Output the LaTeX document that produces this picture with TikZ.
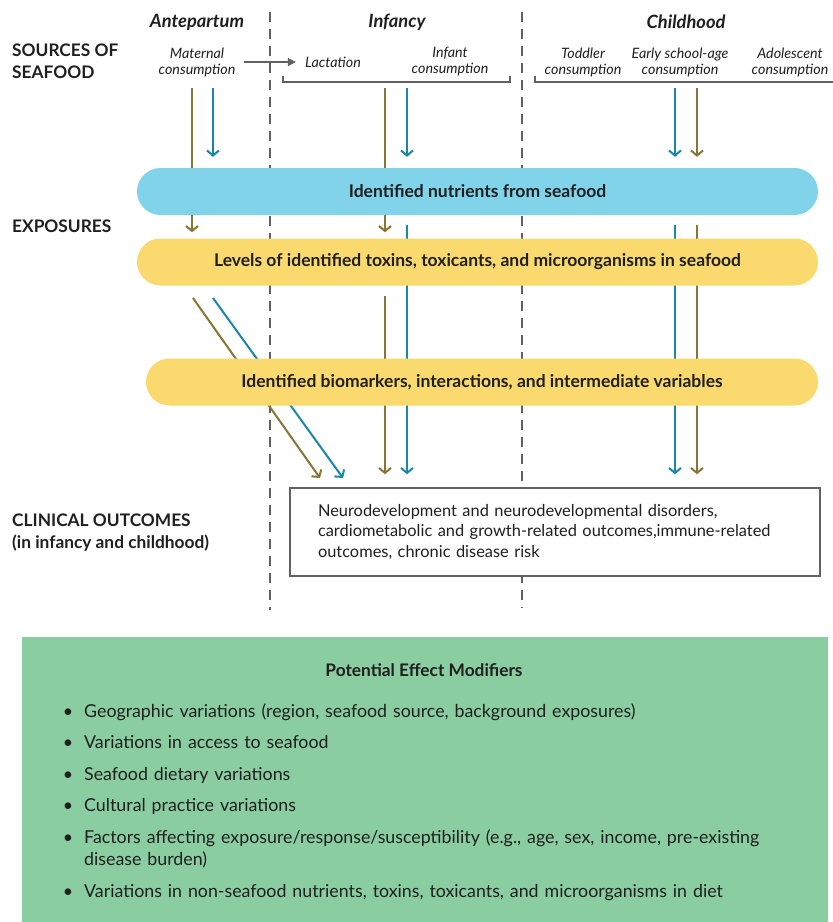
\documentclass[tikz,border=0pt]{standalone}
\usepackage{fontspec}
\setsansfont{Lato}
\usetikzlibrary{arrows.meta, positioning, backgrounds}
\definecolor{cblue}{HTML}{1A87A8}
\definecolor{colive}{HTML}{8A7534}
\definecolor{cgrey}{HTML}{616161}
\definecolor{cnutr}{HTML}{80D3E9}
\definecolor{cyellow}{HTML}{FAD96E}
\definecolor{cgreen}{HTML}{8ACDA1}
\definecolor{cink}{HTML}{1F1F1F}
\tikzset{
  every picture/.style={font=\sffamily, text=cink},
  pill/.style={fill=#1, rounded corners=23.5pt, minimum height=47pt, inner sep=0pt, font=\sffamily\bfseries\fontsize{17.5}{20}\selectfont},
  rowlabel/.style={anchor=west, align=left, inner sep=0pt, font=\sffamily\bfseries\fontsize{17.3}{22}\selectfont},
  period/.style={font=\sffamily\bfseries\itshape\fontsize{18.3}{21}\selectfont},
  source/.style={align=center, inner sep=0pt, font=\sffamily\itshape\fontsize{14.3}{16}\selectfont},
  flow/.style={-{Straight Barb[length=5pt, width=12pt]}, line width=2pt, draw=#1},
  divider/.style={draw=cgrey, line width=2.5pt, dash pattern=on 10pt off 7pt},
  bracket/.style={draw=cgrey, line width=1.5pt},
  item/.style={anchor=base west, text width=730pt, align=left, inner sep=0pt, font=\sffamily\fontsize{17.8}{22}\selectfont},
  dot/.style={anchor=base, inner sep=0pt, font=\sffamily\fontsize{17.8}{22}\selectfont},
}

\begin{document}
\begin{tikzpicture}[x=1pt, y=-1pt]
  \useasboundingbox (0,0) rectangle (833,922);
  % periods and sources
  \node[period] (ante) at (197,22) {Antepartum};
  \node[period] (inf) at (397,22) {Infancy};
  \node[period] (child) at (686,22) {Childhood};
  \node[rowlabel] (src) at (12,61) {SOURCES OF\\SEAFOOD};
  \node[source] (mat) at (197,62) {Maternal\\consumption};
  \node[source] (lact) at (333,62) {Lactation};
  \node[source] (infc) at (450,62) {Infant\\consumption};
  \node[source] (tod) at (583,62) {Toddler\\consumption};
  \node[source] (early) at (680,62) {Early school-age\\consumption};
  \node[source] (adol) at (790,62) {Adolescent\\consumption};
  \draw[-{Triangle[length=8pt, width=8pt]}, draw=cgrey, line width=1.5pt, shorten <=8pt, shorten >=9pt] (mat.east) -- (lact.west);
  \draw[bracket] (283,76) -- (283,82) -- (510,82) -- (510,76);
  \draw[bracket] (535,76) -- (535,82) -- (833,82);
  % exposures
  \node[rowlabel] (expo) at (12,226) {EXPOSURES};
  \node[pill=cnutr, minimum width=681pt] (nutr) at (477.5,191.5) {Identified nutrients from seafood};
  \node[pill=cyellow, minimum width=681pt] (tox) at (477.5,262) {Levels of identified toxins, toxicants, and microorganisms in seafood};
  \node[pill=cyellow, minimum width=672pt] (bio) at (482,382) {Identified biomarkers, interactions, and intermediate variables};
  % outcomes
  \node[rowlabel] (clin) at (12,533) {CLINICAL OUTCOMES\\(in infancy and childhood)};
  \node[draw=cgrey, line width=1.5pt, fill=white, minimum width=530pt, minimum height=88pt, text width=474pt, align=left, inner xsep=28pt, font=\sffamily\fontsize{16.4}{20.5}\selectfont] (out) at (555,532)
    {Neurodevelopment and neurodevelopmental disorders,\\cardiometabolic and growth-related outcomes,immune-related\\outcomes, chronic disease risk};
  \begin{pgfonlayer}{background}
    \draw[divider] (270,12) -- (270,610);
    \draw[divider] (522,12) -- (522,608);
    \foreach \n/\x in {ao/192, ab/213, io/385, ib/407, cb/675, co/697} \coordinate (\n) at (\x,88);
    \draw[flow=colive, shorten >=6pt] (ao) -- (ao |- tox.north);
    \draw[flow=cblue, shorten >=11pt] (ab) -- (ab |- nutr.north);
    \draw[flow=colive, shorten >=6pt] (io) -- (io |- tox.north);
    \draw[flow=cblue, shorten >=11pt] (ib) -- (ib |- nutr.north);
    \draw[flow=cblue, shorten >=11pt] (cb) -- (cb |- nutr.north);
    \draw[flow=colive, shorten >=11pt] (co) -- (co |- nutr.north);
    \draw[flow=cblue, shorten <=10pt, shorten >=13pt] (ib |- nutr.south) -- (ib |- out.north);
    \draw[flow=colive, shorten <=10pt, shorten >=13pt] (io |- tox.south) -- (io |- out.north);
    \draw[flow=cblue, shorten <=10pt, shorten >=13pt] (cb |- nutr.south) -- (cb |- out.north);
    \draw[flow=colive, shorten <=10pt, shorten >=13pt] (co |- nutr.south) -- (co |- out.north);
    \coordinate (dgo) at (193,298);
    \coordinate (dgb) at (213,298);
    \draw[flow=colive] (dgo) -- (320,478);
    \draw[flow=cblue] (dgb) -- (343,478);
  \end{pgfonlayer}
  % effect modifiers
  \node[fill=cgreen, minimum width=806pt, minimum height=285pt, inner sep=0pt] (mod) at (425,779.5) {};
  \node[font=\sffamily\bfseries\fontsize{17.3}{20}\selectfont] (modt) at (424,670) {Potential Effect Modifiers};
  \foreach \y/\t [count=\i] in {717/{Geographic variations (region, seafood source, background exposures)},
                     748/{Variations in access to seafood},
                     780/{Seafood dietary variations},
                     811/{Cultural practice variations},
                     843/{Factors affecting exposure/response/susceptibility (e.g., age, sex, income, pre-existing\\disease burden)},
                     897/{Variations in non-seafood nutrients, toxins, toxicants, and microorganisms in diet}} {
    \node[dot] (b\i) at (68,\y) {\textbullet};
    \node[item] (m\i) at (84,\y) {\t};
  }
\end{tikzpicture}
\end{document}
